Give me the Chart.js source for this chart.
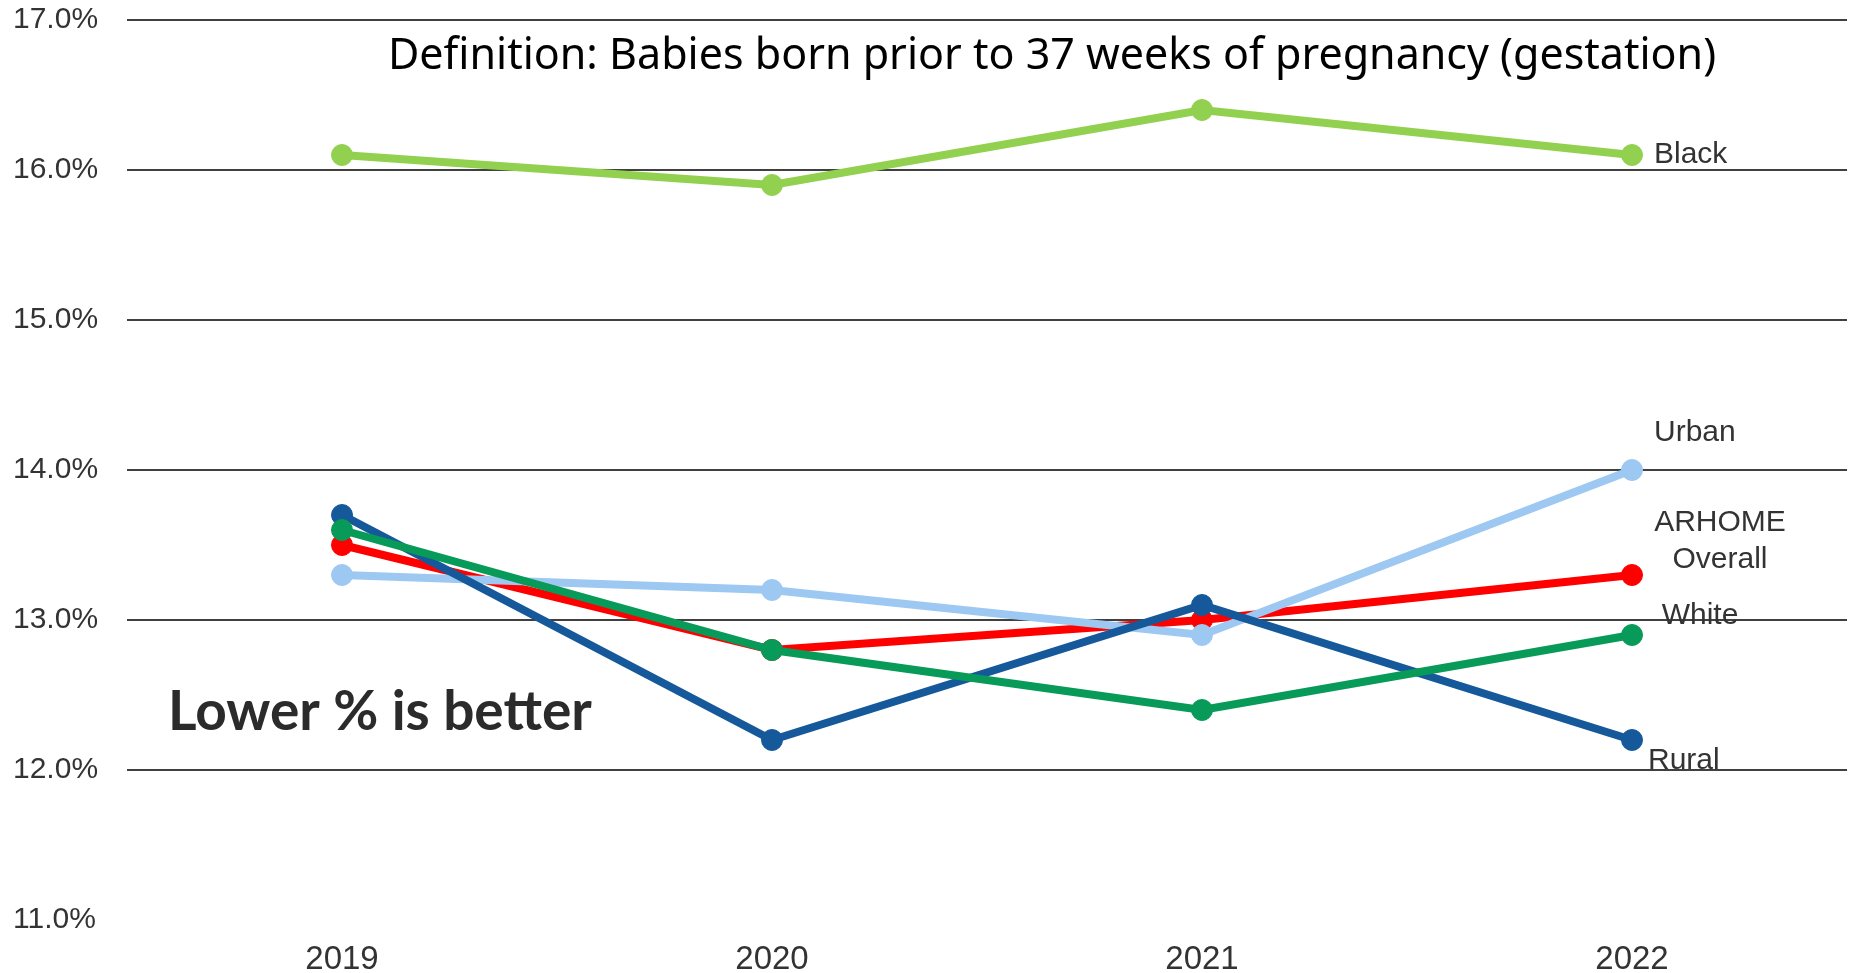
<!DOCTYPE html>
<html>
<head>
<meta charset="utf-8">
<script src="https://cdn.jsdelivr.net/npm/chart.js@4.4.1/dist/chart.umd.min.js"></script>
<style>
  html, body { margin: 0; padding: 0; background: #fff; overflow: hidden; }
  #wrap { width: 1851px; height: 973px; position: relative; }
</style>
</head>
<body>
<div id="wrap"><canvas id="myChart"></canvas></div>
<script>
// data
const years = ['2019', '2020', '2021', '2022'];
const black = [16.1, 15.9, 16.4, 16.1];
const urban = [13.3, 13.2, 12.9, 14.0];
const overall = [13.5, 12.8, 13.0, 13.3];
const white = [13.6, 12.8, 12.4, 12.9];
const rural = [13.7, 12.2, 13.1, 12.2];
const yTicks = [11, 12, 13, 14, 15, 16, 17];

const titleText = 'Definition: Babies born prior to 37 weeks of pregnancy (gestation)';
const noteText = 'Lower % is better';

const axisFont = '"Liberation Sans", Arial, sans-serif';

// series end labels (name, offset from last point, alignment)
const endLabels = [
    { ds: 0, lines: ['Black'], dx: 22, dy: 0, align: 'left' },
    { ds: 1, lines: ['Urban'], dx: 22, dy: -37, align: 'left' },
    { ds: 2, lines: ['ARHOME', 'Overall'], dx: 88, dy: -52, align: 'center' },
    { ds: 3, lines: ['White'], dx: 68, dy: -19, align: 'center' },
    { ds: 4, lines: ['Rural'], dx: 16, dy: 21, align: 'left' }
];

const textPlugin = {
    id: 'textPlugin',
    afterDatasetsDraw(chart) {
        const c = chart.ctx;
        c.save();
        c.textBaseline = 'middle';
        c.fillStyle = '#333333';
        c.font = '30px ' + axisFont;
        endLabels.forEach(l => {
            const meta = chart.getDatasetMeta(l.ds);
            const pt = meta.data[meta.data.length - 1];
            c.textAlign = l.align;
            l.lines.forEach((t, i) => {
                c.fillText(t, pt.x + l.dx, pt.y + l.dy + i * 37);
            });
        });

        // title inside plot
        c.fillStyle = '#000000';
        c.textAlign = 'center';
        c.font = '43px "Noto Sans", sans-serif';
        c.fillText(titleText, 1052, 57);

        c.fillStyle = '#2b2b2b';
        c.textAlign = 'left';
        c.textBaseline = 'alphabetic';
        c.font = 'bold 55px Lato, sans-serif';
        c.fillText(noteText, 168, 730);
        c.restore();
    }
};

function line(data, color, order) {
    return {
        data: data,
        borderColor: color,
        backgroundColor: color,
        pointBackgroundColor: color,
        pointBorderColor: color,
        borderWidth: 8,
        pointRadius: 10.5,
        pointBorderWidth: 1,
        tension: 0,
        order: order
    };
}

function noPad(axis) {
    axis.paddingTop = 0;
    axis.paddingBottom = 0;
    axis.paddingLeft = 0;
    axis.paddingRight = 0;
}

const ctx = document.getElementById('myChart');
const myChart = new Chart(ctx, {
    type: 'line',
    data: {
        labels: years,
        datasets: [
            line(black, '#92D050', 5),
            line(urban, '#9DC8F2', 3),
            line(overall, '#FF0000', 4),
            line(white, '#089A58', 1),
            line(rural, '#16599B', 2)
        ]
    },
    options: {
        responsive: true,
        maintainAspectRatio: false,
        animation: false,
        layout: { padding: { left: 13, right: 4, top: 20, bottom: 0 }, autoPadding: false },
        plugins: {
            legend: { display: false },
            tooltip: { enabled: false }
        },
        scales: {
            x: {
                offset: true,
                grid: { display: false, drawTicks: false },
                border: { display: false },
                afterFit: axis => { axis.height = 53; noPad(axis); },
                ticks: {
                    color: '#333333',
                    font: { family: axisFont, size: 33 },
                    padding: 20
                }
            },
            y: {
                min: 11,
                max: 17,
                afterBuildTicks: axis => {
                    axis.ticks = yTicks.map(v => ({ value: v }));
                },
                afterFit: axis => { axis.width = 114; noPad(axis); },
                grid: {
                    color: c => c.tick && c.tick.value === 11 ? 'rgba(0,0,0,0)' : '#404040',
                    lineWidth: 2,
                    drawTicks: false
                },
                border: { display: false },
                ticks: {
                    color: '#333333',
                    font: { family: axisFont, size: 30 },
                    padding: 29,
                    crossAlign: 'far',
                    callback: v => v.toFixed(1) + '%'
                }
            }
        }
    },
    plugins: [textPlugin]
});
</script>
</body>
</html>
